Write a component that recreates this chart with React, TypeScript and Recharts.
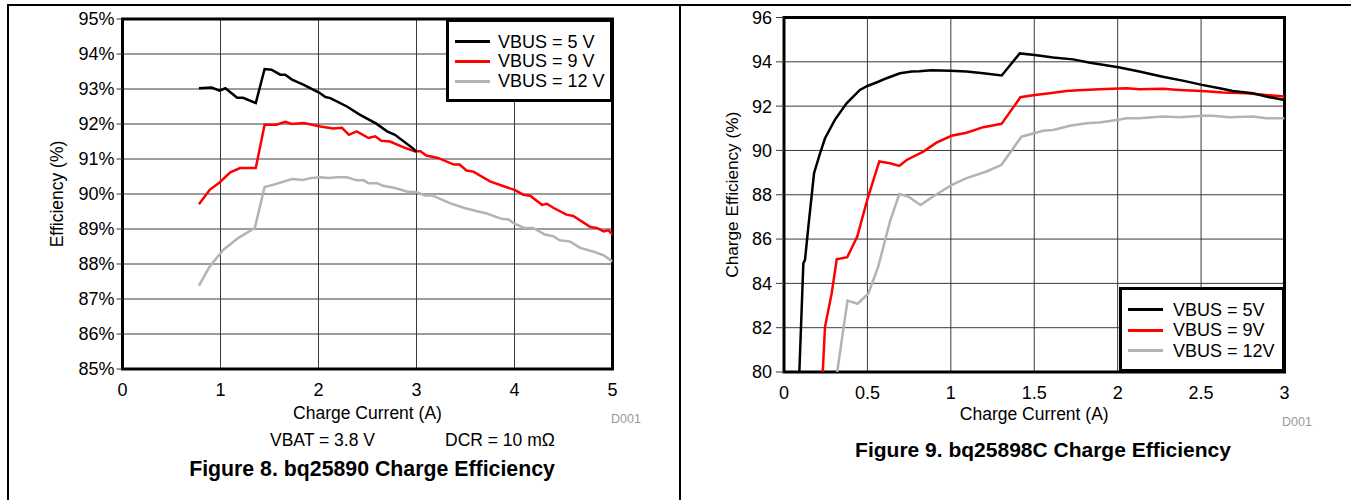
import type { JSX } from "react";

import { CartesianGrid, Legend, Line, LineChart, ReferenceArea, XAxis, YAxis } from "recharts";

// Figure 8 (bq25890), charge current in A and efficiency in %
const fig8Current5V = [0.78, 0.91, 0.99, 1.05, 1.17, 1.23, 1.36, 1.45, 1.52, 1.61, 1.66, 1.73, 1.85, 2.01, 2.07, 2.12, 2.29, 2.42, 2.59, 2.7, 2.78, 2.97, 3.0];
const fig8Eff5V = [93.02, 93.04, 92.95, 93.02, 92.75, 92.75, 92.6, 93.57, 93.55, 93.41, 93.41, 93.27, 93.12, 92.89, 92.77, 92.74, 92.5, 92.27, 92.01, 91.79, 91.69, 91.29, 91.2];

const fig8Current9V = [0.78, 0.89, 0.99, 1.1, 1.2, 1.36, 1.45, 1.57, 1.66, 1.73, 1.85, 2.02, 2.15, 2.24, 2.31, 2.39, 2.51, 2.58, 2.64, 2.73, 2.87, 2.98, 3.04, 3.1, 3.22, 3.38, 3.44, 3.51, 3.58, 3.75, 3.89, 4.0, 4.09, 4.16, 4.28, 4.33, 4.4, 4.53, 4.6, 4.77, 4.84, 4.91, 4.96, 5.0];
const fig8Eff9V = [89.71, 90.12, 90.33, 90.62, 90.74, 90.74, 91.98, 91.98, 92.06, 92.0, 92.03, 91.93, 91.87, 91.89, 91.69, 91.79, 91.6, 91.65, 91.52, 91.5, 91.33, 91.22, 91.22, 91.1, 91.03, 90.84, 90.84, 90.67, 90.64, 90.36, 90.22, 90.12, 89.98, 89.95, 89.69, 89.72, 89.6, 89.41, 89.37, 89.06, 89.03, 88.93, 88.96, 88.84];

const fig8Current12V = [0.78, 0.89, 1.03, 1.18, 1.35, 1.45, 1.57, 1.73, 1.84, 1.93, 2.03, 2.1, 2.19, 2.29, 2.39, 2.46, 2.51, 2.6, 2.65, 2.78, 2.9, 3.0, 3.09, 3.16, 3.34, 3.49, 3.63, 3.71, 3.87, 3.94, 4.0, 4.1, 4.19, 4.31, 4.4, 4.46, 4.57, 4.67, 4.81, 4.91, 5.0];
const fig8Eff12V = [87.38, 87.93, 88.41, 88.74, 89.03, 90.2, 90.29, 90.43, 90.4, 90.46, 90.48, 90.46, 90.48, 90.48, 90.39, 90.39, 90.31, 90.31, 90.24, 90.17, 90.07, 90.05, 89.96, 89.96, 89.74, 89.6, 89.5, 89.45, 89.29, 89.27, 89.15, 89.03, 89.03, 88.84, 88.79, 88.68, 88.64, 88.46, 88.35, 88.25, 88.07];

const fig8Series = ["VBUS = 5 V", "VBUS = 9 V", "VBUS = 12 V"];
const fig8XTicks = [0, 1, 2, 3, 4, 5];
const fig8YTicks = [85, 86, 87, 88, 89, 90, 91, 92, 93, 94, 95];

// Figure 9 (bq25898C)
const fig9Current5V = [0.092, 0.116, 0.126, 0.146, 0.18, 0.216, 0.246, 0.305, 0.375, 0.455, 0.5, 0.565, 0.615, 0.695, 0.765, 0.81, 0.885, 0.995, 1.095, 1.195, 1.305, 1.413, 1.503, 1.613, 1.733, 1.835, 2.004, 2.13, 2.27, 2.39, 2.505, 2.611, 2.69, 2.81, 2.91, 3.0];
const fig9Eff5V = [80, 84.91, 85.06, 86.56, 88.97, 89.87, 90.55, 91.38, 92.13, 92.73, 92.91, 93.1, 93.26, 93.48, 93.56, 93.57, 93.62, 93.6, 93.56, 93.48, 93.38, 94.38, 94.31, 94.19, 94.11, 93.96, 93.75, 93.56, 93.33, 93.15, 92.96, 92.81, 92.68, 92.58, 92.4, 92.28];

const fig9Current9V = [0.232, 0.246, 0.286, 0.316, 0.379, 0.439, 0.499, 0.555, 0.571, 0.635, 0.691, 0.735, 0.835, 0.914, 1.004, 1.094, 1.194, 1.304, 1.417, 1.503, 1.593, 1.692, 1.792, 1.892, 2.052, 2.13, 2.27, 2.37, 2.505, 2.63, 2.77, 2.89, 3.0];
const fig9Eff9V = [80, 82.05, 83.56, 85.09, 85.18, 86.11, 87.77, 89.12, 89.5, 89.42, 89.3, 89.57, 89.95, 90.35, 90.66, 90.8, 91.05, 91.2, 92.4, 92.5, 92.58, 92.68, 92.73, 92.76, 92.81, 92.76, 92.78, 92.73, 92.68, 92.61, 92.58, 92.5, 92.43];

const fig9Current12V = [0.319, 0.355, 0.381, 0.441, 0.505, 0.565, 0.635, 0.691, 0.744, 0.818, 0.894, 1.004, 1.094, 1.214, 1.304, 1.423, 1.553, 1.613, 1.713, 1.813, 1.89, 2.004, 2.052, 2.13, 2.27, 2.37, 2.51, 2.57, 2.67, 2.81, 2.89, 3.0];
const fig9Eff12V = [80, 81.9, 83.22, 83.08, 83.53, 84.76, 86.79, 88.03, 87.92, 87.54, 87.92, 88.44, 88.75, 89.05, 89.35, 90.62, 90.89, 90.92, 91.11, 91.23, 91.26, 91.38, 91.45, 91.45, 91.53, 91.5, 91.56, 91.56, 91.5, 91.53, 91.45, 91.45];

const fig9Series = ["VBUS = 5V", "VBUS = 9V", "VBUS = 12V"];
const fig9XTicks = [0, 0.5, 1, 1.5, 2, 2.5, 3];
const fig9YTicks = [80, 82, 84, 86, 88, 90, 92, 94, 96];

const FONT = '"Liberation Sans", Arial, Helvetica, sans-serif';
const BLACK = "#000000";
const RED = "#ff0000";
const GRAY = "#b3b3b3";
const GRID = "#3a3a3a";

type Pt = { x: number; y: number };
const zip = (xs: number[], ys: number[]): Pt[] => xs.map((x, i) => ({ x, y: ys[i] }));

type LegendItem = { value?: string; color?: string };

function BoxLegend({ payload, order, rowHeight, padTop, gap }: { payload?: LegendItem[]; order: string[]; rowHeight: number; padTop: number; gap: number }): JSX.Element {
	// keep the series order instead of the alphabetical one
	const items = [...(payload ?? [])].sort((a, b) => order.indexOf(a.value ?? "") - order.indexOf(b.value ?? ""));
	return (
		<div
			style={{
				background: "#fff",
				border: "3px solid #000",
				boxSizing: "border-box",
				height: "100%",
				paddingLeft: 6,
				paddingTop: padTop,
				width: "100%",
			}}
		>
			{items.map((entry) => (
				<div key={entry.value} style={{ alignItems: "center", display: "flex", height: rowHeight }}>
					<span style={{ background: entry.color, display: "inline-block", height: 3, marginRight: gap, width: 35 }} />
					<span style={{ color: "#000", fontSize: 18, lineHeight: 1, whiteSpace: "nowrap" }}>{entry.value}</span>
				</div>
			))}
		</div>
	);
}

function Fig8Chart(): JSX.Element {
	return (
		<LineChart height={430} margin={{ bottom: 11.5, left: 0, right: 67.5, top: 19 }} style={{ left: 0, position: "absolute", top: 0 }} width={680}>
			<CartesianGrid horizontalValues={fig8YTicks} stroke={GRID} verticalValues={fig8XTicks} />
			<XAxis
				allowDataOverflow
				axisLine={false}
				dataKey="x"
				domain={[0, 5]}
				height={49.5}
				label={{ fill: "#000", fontSize: 17.5, offset: 0, position: "insideBottom", value: "Charge Current (A)" }}
				tick={{ fill: "#000", fontSize: 18 }}
				tickLine={false}
				tickMargin={8}
				tickSize={6}
				ticks={fig8XTicks}
				type="number"
			/>
			<YAxis
				allowDataOverflow
				axisLine={false}
				domain={[85, 95]}
				label={{ angle: -90, fill: "#000", fontSize: 17.5, offset: 57, position: "insideLeft", style: { textAnchor: "middle" }, value: "Efficiency (%)" }}
				tick={{ fill: "#000", fontSize: 18 }}
				tickFormatter={(v) => `${v}%`}
				tickLine={{ stroke: GRID }}
				tickMargin={2}
				tickSize={6}
				ticks={fig8YTicks}
				type="number"
				width={122.5}
			/>
			<ReferenceArea fill="none" stroke="#000" strokeWidth={3} x1={0} x2={5} y1={85} y2={95} />
			<Line data={zip(fig8Current12V, fig8Eff12V)} dataKey="y" dot={false} isAnimationActive={false} name={fig8Series[2]} stroke={GRAY} strokeWidth={2.5} type="linear" />
			<Line data={zip(fig8Current9V, fig8Eff9V)} dataKey="y" dot={false} isAnimationActive={false} name={fig8Series[1]} stroke={RED} strokeWidth={2.5} type="linear" />
			<Line data={zip(fig8Current5V, fig8Eff5V)} dataKey="y" dot={false} isAnimationActive={false} name={fig8Series[0]} stroke={BLACK} strokeWidth={2.5} type="linear" />
			<Legend
				align="center"
				content={(p) => <BoxLegend gap={8} order={fig8Series} padTop={9.8} payload={p.payload as LegendItem[]} rowHeight={19.7} />}
				layout="vertical"
				verticalAlign="middle"
				wrapperStyle={{ height: 83, left: 446, top: 19, width: 167 }}
			/>
		</LineChart>
	);
}

function Fig9Chart(): JSX.Element {
	return (
		<LineChart height={430} margin={{ bottom: 10.5, left: 0, right: 66.5, top: 17.5 }} style={{ left: 680, position: "absolute", top: 0 }} width={671}>
			<CartesianGrid horizontalValues={fig9YTicks} stroke={GRID} verticalValues={fig9XTicks} />
			<XAxis
				allowDataOverflow
				axisLine={false}
				dataKey="x"
				domain={[0, 3]}
				height={47.5}
				label={{ fill: "#000", fontSize: 17.5, offset: 0, position: "insideBottom", value: "Charge Current (A)" }}
				tick={{ fill: "#000", fontSize: 18 }}
				tickLine={false}
				tickMargin={8.5}
				tickSize={6}
				ticks={fig9XTicks}
				type="number"
			/>
			<YAxis
				allowDataOverflow
				axisLine={false}
				domain={[80, 96]}
				label={{ angle: -90, fill: "#000", fontSize: 17.2, offset: 52, position: "insideLeft", style: { textAnchor: "middle" }, value: "Charge Efficiency (%)" }}
				tick={{ fill: "#000", fontSize: 18 }}
				tickLine={{ stroke: GRID }}
				tickMargin={4}
				tickSize={8}
				ticks={fig9YTicks}
				type="number"
				width={104}
			/>
			<ReferenceArea fill="none" stroke="#000" strokeWidth={3} x1={0} x2={3} y1={80} y2={96} />
			<Line data={zip(fig9Current12V, fig9Eff12V)} dataKey="y" dot={false} isAnimationActive={false} name={fig9Series[2]} stroke={GRAY} strokeWidth={2.5} type="linear" />
			<Line data={zip(fig9Current9V, fig9Eff9V)} dataKey="y" dot={false} isAnimationActive={false} name={fig9Series[1]} stroke={RED} strokeWidth={2.5} type="linear" />
			<Line data={zip(fig9Current5V, fig9Eff5V)} dataKey="y" dot={false} isAnimationActive={false} name={fig9Series[0]} stroke={BLACK} strokeWidth={2.5} type="linear" />
			<Legend
				align="center"
				content={(p) => <BoxLegend gap={10} order={fig9Series} padTop={9.7} payload={p.payload as LegendItem[]} rowHeight={20.5} />}
				layout="vertical"
				verticalAlign="middle"
				wrapperStyle={{ height: 85, left: 439, top: 287, width: 166 }}
			/>
		</LineChart>
	);
}

const textAt = (left: number, top: number, extra: React.CSSProperties = {}): React.CSSProperties => ({
	left,
	lineHeight: 1,
	position: "absolute",
	top,
	whiteSpace: "nowrap",
	...extra,
});

export default function App(): JSX.Element {
	return (
		<div style={{ background: "#fff", color: "#000", fontFamily: FONT, height: 500, left: 0, overflow: "hidden", position: "absolute", top: 0, width: 1351 }}>
			{/* page frame */}
			<div style={{ borderLeft: "2px solid #000", borderRight: "2px solid #000", borderTop: "2px solid #000", boxSizing: "border-box", height: 496, left: 7, position: "absolute", top: 4, width: 674 }} />
			<div style={{ borderTop: "2px solid #000", height: 0, left: 679, position: "absolute", top: 4, width: 672 }} />

			<Fig8Chart />
			<Fig9Chart />

			<div style={textAt(611, 413, { color: "#999", fontSize: 12.5 })}>D001</div>
			<div style={textAt(1282, 416, { color: "#999", fontSize: 12.5 })}>D001</div>
			<div style={textAt(270, 432, { fontSize: 17.5 })}>VBAT = 3.8 V</div>
			<div style={textAt(445, 432, { fontSize: 17.5 })}>DCR = 10 mΩ</div>
			<div style={textAt(2, 459, { fontSize: 21.3, fontWeight: 700, textAlign: "center", width: 740 })}>Figure 8. bq25890 Charge Efficiency</div>
			<div style={textAt(843, 439, { fontSize: 21, fontWeight: 700, textAlign: "center", width: 400 })}>Figure 9. bq25898C Charge Efficiency</div>
		</div>
	);
}
